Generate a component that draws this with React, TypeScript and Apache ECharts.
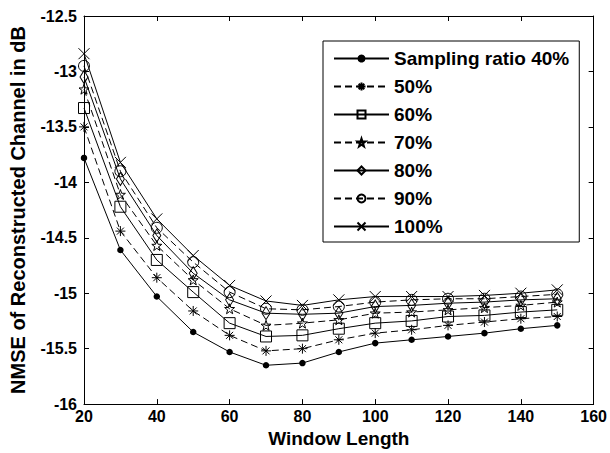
import React, { useEffect, useRef } from "react";
import * as echarts from "echarts";

const windowLength = [20, 30, 40, 50, 60, 70, 80, 90, 100, 110, 120, 130, 140, 150];
const s40 = [-13.78, -14.61, -15.03, -15.35, -15.53, -15.65, -15.63, -15.53, -15.45, -15.42, -15.39, -15.36, -15.32, -15.29];
const s50 = [-13.5, -14.44, -14.86, -15.16, -15.38, -15.52, -15.5, -15.42, -15.36, -15.33, -15.29, -15.26, -15.23, -15.21];
const s60 = [-13.33, -14.22, -14.7, -14.99, -15.27, -15.39, -15.38, -15.32, -15.27, -15.25, -15.21, -15.2, -15.17, -15.15];
const s70 = [-13.16, -14.11, -14.57, -14.88, -15.14, -15.29, -15.27, -15.24, -15.18, -15.17, -15.15, -15.13, -15.11, -15.08];
const s80 = [-13.05, -13.97, -14.48, -14.82, -15.06, -15.18, -15.19, -15.18, -15.12, -15.11, -15.09, -15.08, -15.06, -15.05];
const s90 = [-12.95, -13.9, -14.41, -14.72, -14.99, -15.14, -15.15, -15.12, -15.08, -15.06, -15.05, -15.05, -15.03, -15.01];
const s100 = [-12.84, -13.82, -14.33, -14.66, -14.93, -15.07, -15.11, -15.06, -15.03, -15.03, -15.03, -15.02, -15.0, -14.97];

const seriesNames = ["Sampling ratio 40%", "50%", "60%", "70%", "80%", "90%", "100%"];

const FONT = "'Liberation Sans', Arial, Helvetica, sans-serif";
const DASH = [7, 4];

const ASTERISK = "path://M5 0 L5 10 M0 5 L10 5 M1.5 1.5 L8.5 8.5 M8.5 1.5 L1.5 8.5";
const STAR = "path://M5 0 L6.18 3.38 L9.76 3.45 L6.9 5.62 L7.94 9.05 L5 7 L2.06 9.05 L3.1 5.62 L0.24 3.45 L3.82 3.38 Z";
const CROSS = "path://M0 0 L10 10 M10 0 L0 10";

export default function App() {
  const ref = useRef<HTMLDivElement>(null);
  useEffect(() => {
    if (!ref.current) return;
    const chart = echarts.init(ref.current, null, { renderer: "svg" });
    const hollow = { color: "transparent", borderColor: "#000", borderWidth: 1 };
    const specs = [
      { data: s40, symbol: "circle", size: 6.5, dash: false, item: { color: "#000", borderColor: "#000", borderWidth: 0 } },
      { data: s50, symbol: ASTERISK, size: 10, dash: true, item: hollow },
      { data: s60, symbol: "rect", size: 11, dash: false, item: hollow },
      { data: s70, symbol: STAR, size: 10, dash: true, item: hollow },
      { data: s80, symbol: "diamond", size: [8, 13], dash: false, item: hollow },
      { data: s90, symbol: "circle", size: 11, dash: true, item: hollow },
      { data: s100, symbol: CROSS, size: 11, dash: false, item: hollow },
    ];
    const series = specs.map((s, k) => ({
      name: seriesNames[k],
      type: "line",
      xAxisIndex: 0,
      yAxisIndex: 0,
      data: windowLength.map((x, i) => [x, s.data[i]]),
      symbol: s.symbol,
      symbolSize: s.size,
      showSymbol: true,
      lineStyle: { color: "#000", width: 1, type: s.dash ? DASH : "solid" },
      itemStyle: s.item,
      emphasis: { disabled: true },
    }));
    const axisCommon = {
      axisLine: { show: true, onZero: false, lineStyle: { color: "#000", width: 1 } },
      axisTick: { show: true, inside: true, length: 5, lineStyle: { color: "#000" } },
      splitLine: { show: false },
    };
    chart.setOption({
      animation: false,
      backgroundColor: "#fff",
      grid: { left: 84, right: 14, top: 16, bottom: 47, containLabel: false },
      legend: {
        data: seriesNames,
        orient: "vertical",
        left: 323,
        top: 41,
        width: 262,
        padding: [8, 10, 6, 10],
        itemWidth: 55,
        itemHeight: 10,
        itemGap: 9,
        borderColor: "#000",
        borderWidth: 1,
        backgroundColor: "#fff",
        textStyle: { fontFamily: FONT, fontWeight: "bold", fontSize: 19, color: "#000" },
      },
      xAxis: [
        {
          type: "value",
          min: 20,
          max: 160,
          interval: 20,
          position: "bottom",
          name: "Window Length",
          nameLocation: "middle",
          nameGap: 22,
          nameTextStyle: { fontFamily: FONT, fontWeight: "bold", fontSize: 19, color: "#000" },
          axisLabel: { fontFamily: FONT, fontWeight: "bold", fontSize: 16, color: "#000", margin: 4 },
          ...axisCommon,
        },
        {
          type: "value",
          min: 20,
          max: 160,
          interval: 20,
          position: "top",
          axisLabel: { show: false },
          ...axisCommon,
        },
      ],
      yAxis: [
        {
          type: "value",
          min: -16,
          max: -12.5,
          interval: 0.5,
          position: "left",
          name: "NMSE of Reconstructed Channel in dB",
          nameLocation: "middle",
          nameGap: 56,
          nameTextStyle: { fontFamily: FONT, fontWeight: "bold", fontSize: 20, color: "#000" },
          axisLabel: { fontFamily: FONT, fontWeight: "bold", fontSize: 16, color: "#000", margin: 7 },
          ...axisCommon,
        },
        {
          type: "value",
          min: -16,
          max: -12.5,
          interval: 0.5,
          position: "right",
          axisLabel: { show: false },
          ...axisCommon,
        },
      ],
      series,
    });
    return () => chart.dispose();
  }, []);
  return (
    <div
      ref={ref}
      style={{ position: "fixed", left: 0, top: 0, width: 610, height: 453, background: "#fff" }}
    />
  );
}
